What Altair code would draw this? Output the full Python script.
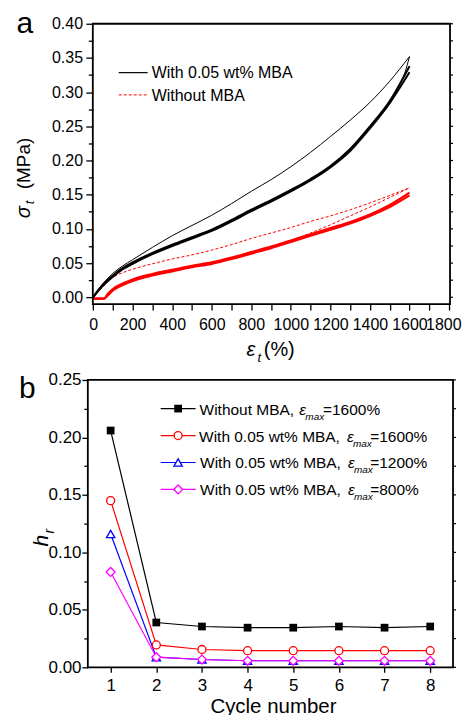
import altair as alt
import pandas as pd

FONT = "Liberation Sans"
BLACK, RED, BLUE, MAGENTA = "#000000", "#ff0000", "#0000ff", "#ff00ff"

# ---------------- panel a : cyclic tensile curves ----------------
strain = [0, 25, 50, 100, 150, 200, 300, 400, 500, 600, 700, 800, 900, 1000,
          1100, 1200, 1300, 1400, 1500, 1600]
mba_first_load = [0.000, 0.011, 0.020, 0.035, 0.046, 0.055, 0.073, 0.090, 0.105, 0.120,
                  0.137, 0.155, 0.172, 0.191, 0.212, 0.235, 0.259, 0.285, 0.316, 0.352]
mba_reload = [0.000, 0.010, 0.019, 0.032, 0.043, 0.051, 0.065, 0.077, 0.088, 0.099,
              0.113, 0.128, 0.142, 0.157, 0.173, 0.192, 0.217, 0.250, 0.287, 0.338]
mba_unload = [0.000, 0.009, 0.017, 0.030, 0.041, 0.049, 0.063, 0.075, 0.086, 0.097,
              0.111, 0.126, 0.140, 0.155, 0.171, 0.190, 0.214, 0.247, 0.284, 0.329]
mba_first_unload_strain = [1600, 1575, 1550, 1500, 1450, 1400]
mba_first_unload = [0.352, 0.327, 0.311, 0.286, 0.266, 0.249]

nomba_first_load = [0.000, 0.008, 0.015, 0.029, 0.036, 0.041, 0.049, 0.056, 0.062, 0.069,
                    0.077, 0.086, 0.094, 0.102, 0.111, 0.119, 0.128, 0.138, 0.149, 0.160]
nomba_strain = [0, 25, 55, 75, 100, 150, 200, 300, 400, 500, 600, 700, 800, 900, 1000,
                1100, 1200, 1300, 1400, 1500, 1600]
nomba_reload = [-0.002, -0.002, -0.002, 0.005, 0.012, 0.020, 0.026, 0.034, 0.040, 0.046,
                0.051, 0.058, 0.066, 0.074, 0.083, 0.092, 0.101, 0.110, 0.121, 0.135, 0.153]
nomba_unload = [-0.002, -0.002, -0.002, 0.003, 0.010, 0.018, 0.024, 0.032, 0.038, 0.044,
                0.049, 0.056, 0.064, 0.072, 0.081, 0.090, 0.099, 0.108, 0.119, 0.132, 0.149]
nomba_first_unload_strain = [1600, 1500, 1400, 1300, 1200, 1100, 1000]
nomba_first_unload = [0.160, 0.146, 0.132, 0.119, 0.106, 0.094, 0.083]

a_x_ticks = [0, 100, 200, 300, 400, 500, 600, 700, 800, 900, 1000, 1100, 1200,
             1300, 1400, 1500, 1600, 1700, 1800]
a_y_ticks = [0.0, 0.025, 0.05, 0.075, 0.1, 0.125, 0.15, 0.175, 0.2, 0.225, 0.25,
             0.275, 0.3, 0.325, 0.35, 0.375, 0.4]

# ---------------- panel b : hysteresis ratio ----------------
cycles = [1, 2, 3, 4, 5, 6, 7, 8]
hr_without_1600 = [0.206, 0.039, 0.0355, 0.0345, 0.0345, 0.0355, 0.0345, 0.0355]
hr_with_1600 = [0.145, 0.0195, 0.0155, 0.0145, 0.0145, 0.0145, 0.0145, 0.0145]
hr_with_1200 = [0.116, 0.0088, 0.0068, 0.0057, 0.0057, 0.0057, 0.0057, 0.0057]
hr_with_800 = [0.083, 0.0088, 0.0068, 0.0057, 0.0057, 0.0057, 0.0057, 0.0057]
b_y_ticks = [0.0, 0.025, 0.05, 0.075, 0.1, 0.125, 0.15, 0.175, 0.2, 0.225, 0.25]

ONE = pd.DataFrame({"k": [0]})

AW, AH = 363, 281
BW, BH = 366, 288


def txt(text, x, y, size, italic=False, angle=0, align="left", baseline="alphabetic"):
    kw = dict(text=text, font=FONT, fontSize=size, align=align, baseline=baseline,
              color=BLACK, angle=angle)
    if italic:
        kw["fontStyle"] = "italic"
    return alt.Chart(ONE).mark_text(**kw).encode(x=alt.value(x), y=alt.value(y))


def seg(x1, x2, y, color, width=1.0, dash=None):
    kw = dict(color=color, strokeWidth=width)
    if dash:
        kw["strokeDash"] = dash
    return alt.Chart(ONE).mark_rule(**kw).encode(x=alt.value(x1), x2=alt.value(x2), y=alt.value(y))


def frame(x0, w, h):
    return alt.Chart(ONE).mark_rect(fillOpacity=0, stroke=BLACK, strokeWidth=1.8).encode(
        x=alt.value(x0), x2=alt.value(w), y=alt.value(0), y2=alt.value(h))


def spacer(y1, y2):
    return alt.Chart(ONE).mark_rule(color="white", strokeWidth=0.5).encode(
        x=alt.value(-79), y=alt.value(y1), y2=alt.value(y2))


# ---- panel a scales/axes ----
xa_scale = alt.Scale(domain=[-26.7, 1805], nice=False)
ya_scale = alt.Scale(domain=[-0.01, 0.40], nice=False)
xa_axis = alt.Axis(values=a_x_ticks, labelExpr="datum.value % 200 === 0 ? format(datum.value, 'd') : ''",
                   tickSize=6, labelPadding=6, labelFontSize=16, labelFont=FONT, title=None,
                   labelColor=BLACK, domain=False, grid=False, labelFlush=2, labelFlushOffset=12,
                   labelOverlap=False)
ya_axis = alt.Axis(values=a_y_ticks,
                   labelExpr="round(datum.value*1000) % 50 === 0 ? format(datum.value, '.2f') : ''",
                   tickSize={"condition": {"test": "round(datum.value*1000) % 50 === 0", "value": 7}, "value": 4.5},
                   labelPadding=3.3, labelFontSize=16, labelFont=FONT, title=None, offset=-5,
                   labelColor=BLACK, domain=False, grid=False, labelFlush=False, labelOverlap=False)


def a_line(xs, ys, color, width, dash=None):
    df = pd.DataFrame({"strain": xs, "stress": ys})
    kw = dict(color=color, strokeWidth=width, interpolate="monotone")
    if dash:
        kw["strokeDash"] = dash
    return alt.Chart(df).mark_line(**kw).encode(
        x=alt.X("strain:Q", scale=xa_scale, axis=xa_axis),
        y=alt.Y("stress:Q", scale=ya_scale, axis=ya_axis))


a_right_ticks = alt.Chart(pd.DataFrame({"v": a_y_ticks})).mark_rule(color=BLACK, strokeWidth=1.2).encode(
    y=alt.Y("v:Q", scale=ya_scale, axis=ya_axis), x=alt.value(AW), x2=alt.value(AW + 3))

panel_a = alt.layer(
    a_line(nomba_strain, nomba_unload, RED, 2.3),
    a_line(nomba_strain, nomba_reload, RED, 2.3),
    a_line(strain, nomba_first_load, RED, 1.0, [3, 2]),
    a_line(nomba_first_unload_strain, nomba_first_unload, RED, 1.0, [3, 2]),
    a_line(strain, mba_unload, BLACK, 2.0),
    a_line(strain, mba_reload, BLACK, 2.0),
    a_line(strain, mba_first_load, BLACK, 1.0),
    a_line(mba_first_unload_strain, mba_first_unload, BLACK, 1.0),
    frame(5, AW, AH),
    a_right_ticks,
    seg(31, 60, 49, BLACK, 1.2),
    seg(31, 60, 71.3, RED, 1.0, [3, 2]),
    txt("With 0.05 wt% MBA", 64, 54.7, 16),
    txt("Without MBA", 64, 77.3, 16),
    txt("a", -71.5, 9.7, 30),
    txt("(MPa)", -57.7, 140, 19, angle=270, align="center"),
    txt("σ", -57.7, 189, 20, italic=True, angle=270, align="center"),
    txt("t", -53.5, 179, 13, italic=True, angle=270, align="center"),
    txt("ε", 159, 333, 20, italic=True),
    txt("t", 170, 339, 13, italic=True),
    txt("(%)", 176.3, 333, 20),
    spacer(-14, 343.5),
).properties(width=AW, height=AH)

# ---- panel b scales/axes ----
xb_scale = alt.Scale(domain=[0.5, 8.5], nice=False)
yb_scale = alt.Scale(domain=[0, 0.25], nice=False)
xb_axis = alt.Axis(values=cycles, tickSize=5, labelPadding=4.8, labelFontSize=17, labelFont=FONT,
                   title=None, labelColor=BLACK, domain=False, grid=False, format="d")
yb_axis = alt.Axis(values=b_y_ticks,
                   labelExpr="round(datum.value*1000) % 50 === 0 ? format(datum.value, '.2f') : ''",
                   tickSize={"condition": {"test": "round(datum.value*1000) % 50 === 0", "value": 6}, "value": 4},
                   labelPadding=0.8, labelFontSize=17, labelFont=FONT, title=None,
                   labelColor=BLACK, domain=False, grid=False, labelFlush=False, labelOverlap=False)


def b_series(ys, color, shape, size, filled):
    df = pd.DataFrame({"cycle": cycles, "hr": ys})
    enc = dict(x=alt.X("cycle:Q", scale=xb_scale, axis=xb_axis),
               y=alt.Y("hr:Q", scale=yb_scale, axis=yb_axis))
    line = alt.Chart(df).mark_line(color=color, strokeWidth=1.2).encode(**enc)
    if filled:
        pts = alt.Chart(df).mark_point(shape=shape, size=size, filled=True, color=color, opacity=1).encode(**enc)
    else:
        pts = alt.Chart(df).mark_point(shape=shape, size=size, filled=False, stroke=color, fill="white",
                                       fillOpacity=1, strokeWidth=1.3, opacity=1).encode(**enc)
    return line, pts


def leg_marker(x, y, color, shape, size, filled):
    if filled:
        m = alt.Chart(ONE).mark_point(shape=shape, size=size, filled=True, color=color, opacity=1)
    else:
        m = alt.Chart(ONE).mark_point(shape=shape, size=size, filled=False, stroke=color, fill="white",
                                      fillOpacity=1, strokeWidth=1.3, opacity=1)
    return m.encode(x=alt.value(x), y=alt.value(y))


s1 = b_series(hr_without_1600, BLACK, "square", 60, True)
s2 = b_series(hr_with_1600, RED, "circle", 64, False)
s3 = b_series(hr_with_1200, BLUE, "triangle-up", 70, False)
s4 = b_series(hr_with_800, MAGENTA, "diamond", 80, False)

b_right_ticks = alt.Chart(pd.DataFrame({"v": b_y_ticks})).mark_rule(color=BLACK, strokeWidth=1.2).encode(
    y=alt.Y("v:Q", scale=yb_scale, axis=yb_axis), x=alt.value(BW), x2=alt.value(BW + 3))

legend_rows = [
    (BLACK, "square", 60, True, "Without MBA, ", 112, 212, "=1600%", 235.7),
    (RED, "circle", 64, False, "With 0.05 wt% MBA, ", 111.5, 259.7, "=1600%", 283),
    (BLUE, "triangle-up", 70, False, "With 0.05 wt% MBA, ", 112.5, 260.7, "=1200%", 283),
    (MAGENTA, "diamond", 80, False, "With 0.05 wt% MBA, ", 112.5, 260.7, "=800%", 283),
]
legend_layers = []
for i, (col, shp, sz, fl, lab, tx, ex, tail, rx) in enumerate(legend_rows):
    yc = 28.7 + 27 * i
    yb = 34.7 + 27 * i
    legend_layers += [
        seg(73, 108, yc, col, 1.2),
        leg_marker(90.5, yc, col, shp, sz, fl),
        txt(lab, tx, yb, 15.5),
        txt("ε", ex, yb, 15.5, italic=True),
        txt("max", ex + 6, yb + 5, 10, italic=True),
        txt(tail, rx, yb, 15.5),
    ]

panel_b = alt.layer(
    s1[0], s2[0], s3[0], s4[0],
    s1[1], s2[1], s3[1], s4[1],
    frame(0, BW, BH),
    b_right_ticks,
    *legend_layers,
    txt("b", -69, 18, 30),
    txt("h", -40.3, 161, 21, italic=True, angle=270, align="center"),
    txt("r", -34, 151.5, 14, italic=True, angle=270, align="center"),
    txt("Cycle number", 186, 333.5, 20.5, align="center"),
    spacer(-10.5, 290),
).properties(width=BW, height=BH)

chart = alt.vconcat(panel_a, panel_b, spacing=0).properties(
    padding={"left": 0, "top": 0, "right": 0, "bottom": -4}
).configure_view(stroke="transparent").configure_axis(
    tickColor=BLACK, tickWidth=1.3, labelColor=BLACK, labelFont=FONT
)

chart.save("out.html", embed_options={"renderer": "svg", "actions": False})
